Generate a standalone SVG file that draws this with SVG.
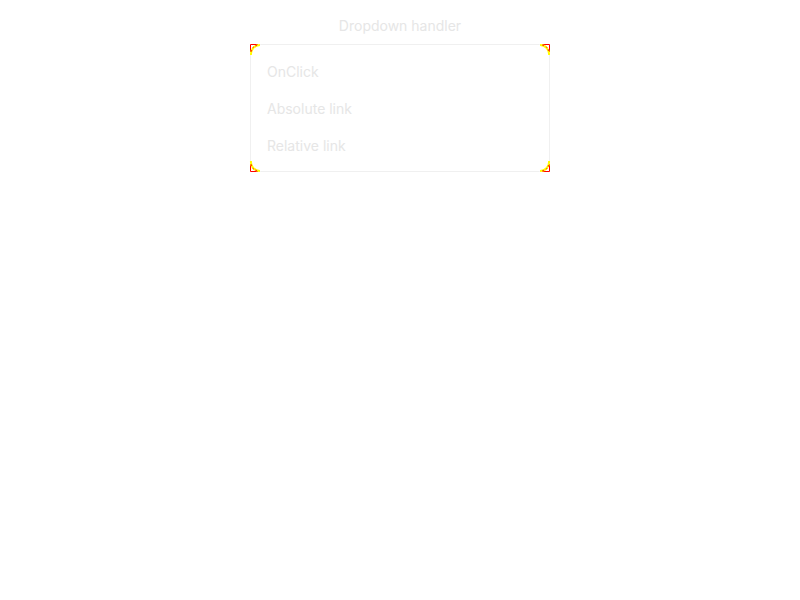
<svg xmlns="http://www.w3.org/2000/svg" width="800" height="600" viewBox="0 0 800 600">
<style>
.t{font-family:Inter,"Noto Sans",sans-serif;font-size:14px;fill:#e6e6e6}
.box{fill:#ffffff;stroke:#f0f0f0;stroke-width:1}
.sq{fill:none;stroke:#ff0000;stroke-width:1}
.arc{fill:none;stroke:#ffff00;stroke-width:2}
.arcd{fill:none;stroke:#ff0000;stroke-width:1;stroke-dasharray:1.5 2}
</style>
<rect width="800" height="600" fill="#ffffff"/>
<g id="dropdown">
<text class="t" x="400" y="31" text-anchor="middle">Dropdown handler</text>
<rect class="box" x="250.5" y="44.5" width="299" height="127" rx="10"/>
<path class="sq" d="M250.5,52 V44.5 H258 M542,44.5 H549.5 V52 M250.5,164 V171.5 H258 M542,171.5 H549.5 V164"/>
<path class="arc" d="M251,55 A9,9 0 0 1 260,45 M540,45 A9,9 0 0 1 549,55 M251,161 A9,9 0 0 0 260,171 M540,171 A9,9 0 0 0 549,161"/>
<path class="arcd" d="M251.5,51.5 A6,6 0 0 1 257.5,45.5 M542.5,45.5 A6,6 0 0 1 548.5,51.5 M251.5,164.5 A6,6 0 0 0 257.5,170.5 M542.5,170.5 A6,6 0 0 0 548.5,164.5"/>
</g>
<g id="item-onclick"><text class="t" x="267" y="77">OnClick</text></g>
<g id="item-absolute"><text class="t" x="267" y="114">Absolute link</text></g>
<g id="item-relative"><text class="t" x="267" y="151">Relative link</text></g>
<g id="connectors"></g>
</svg>
